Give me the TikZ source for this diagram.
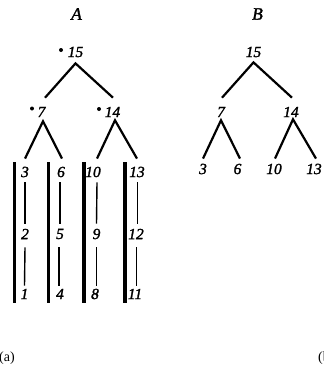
\documentclass[tikz,border=0pt]{standalone}
\usepackage{fontspec}
\setmainfont{Liberation Serif}[ItalicFeatures={FakeBold=1.6}]
\begin{document}
\begin{tikzpicture}[x=1pt,y=-1pt,
  num/.style={inner sep=0pt,font=\fontsize{15.5}{16}\selectfont\itshape},
  ttl/.style={inner sep=0pt,font=\fontsize{17.5}{18}\selectfont\itshape},
  captxt/.style={inner sep=0pt,font=\fontsize{14}{15}\selectfont},
  dotmark/.style={circle,fill=black,inner sep=0pt,minimum size=4pt},
  treeline/.style={line width=2.2pt},
  chainlink/.style={line width=1.4pt},
  thickbar/.style={line width=3.8pt}]
\useasboundingbox (0,0) rectangle (324,373);
% titles
\node[ttl] (tA) at (76.5,14) {A};
\node[ttl] (tB) at (257.5,14) {B};
% ---- tree A ----
\node[num] (a15) at (75.5,52) {15};
\node[dotmark] (da15) at (61,50) {};
\node[num] (a7) at (41.5,112) {7};
\node[dotmark] (da7) at (32,108.5) {};
\node[num] (a14) at (112.5,112) {14};
\node[dotmark] (da14) at (99,109) {};
% chains
\node[num] (c3) at (25,172) {3};
\node[num] (c2) at (25,234) {2};
\node[num] (c1) at (24.5,294) {1};
\node[num] (c6) at (61,172) {6};
\node[num] (c5) at (60,234) {5};
\node[num] (c4) at (60,294) {4};
\node[num] (c10) at (93,172) {10};
\node[num] (c9) at (96.5,234) {9};
\node[num] (c8) at (95,294) {8};
\node[num] (c13) at (137,172) {13};
\node[num] (c12) at (136,234) {12};
\node[num] (c11) at (135,294) {11};
% tree edges A
\draw[treeline] ([xshift=3.5pt,yshift=9pt]a7.north) -- ([yshift=-6pt]a15.south) -- ([xshift=0.5pt,yshift=9pt]a14.north);
\draw[treeline] ([yshift=8pt]c3.north) -- ([xshift=1.5pt,yshift=-4pt]a7.south) -- ([xshift=1pt,yshift=8pt]c6.north);
\draw[treeline] ([xshift=4pt,yshift=8pt]c10.north) -- ([xshift=2.5pt,yshift=-3pt]a14.south) -- ([yshift=8pt]c13.north);
% chain links
\draw[chainlink] ([yshift=-5pt]c3.south) -- ([yshift=5pt]c2.north);
\draw[chainlink] ([yshift=-8pt]c2.south) -- ([yshift=3pt]c1.north);
\draw[chainlink] ([xshift=-1pt,yshift=-5pt]c6.south) -- ([yshift=5pt]c5.north);
\draw[chainlink] ([xshift=-1pt,yshift=-8pt]c5.south) -- ([xshift=-1pt,yshift=3pt]c4.north);
\draw[chainlink] ([xshift=4pt,yshift=-5pt]c10.south) -- ([yshift=5pt]c9.north);
\draw[chainlink] ([yshift=-8pt]c9.south) -- ([xshift=1.5pt,yshift=3pt]c8.north);
\draw[chainlink] ([xshift=0.5pt,yshift=-5pt]c13.south) -- ([xshift=1.5pt,yshift=5pt]c12.north);
\draw[chainlink] ([xshift=0.5pt,yshift=-8pt]c12.south) -- ([xshift=1.5pt,yshift=3pt]c11.north);
% thick bars
\draw[thickbar] (14.5,162) -- (14.5,303);
\draw[thickbar] (48.5,162) -- (48.5,303);
\draw[thickbar] (84,162) -- (84,303);
\draw[thickbar] (125,162) -- (125,303);
% ---- tree B ----
\node[num] (b15) at (253.5,52) {15};
\node[num] (b7) at (221,112) {7};
\node[num] (b14) at (291,112) {14};
\node[num] (b3) at (203,169) {3};
\node[num] (b6) at (237.5,169) {6};
\node[num] (b10) at (274,169) {10};
\node[num] (b13) at (314,169) {13};
\draw[treeline] ([xshift=1pt,yshift=9pt]b7.north) -- ([yshift=-5pt]b15.south) -- ([xshift=1pt,yshift=9pt]b14.north);
\draw[treeline] ([yshift=5pt]b3.north) -- ([yshift=-3pt]b7.south) -- ([xshift=2.5pt,yshift=5pt]b6.north);
\draw[treeline] ([xshift=1pt,yshift=5pt]b10.north) -- ([xshift=2pt,yshift=-2pt]b14.south) -- ([xshift=2pt,yshift=5pt]b13.north);
% captions
\node[captxt,anchor=west] (capa) at (-1,358) {(a)};
\node[captxt,anchor=west] (capb) at (318,358) {(b)};
\end{tikzpicture}
\end{document}
